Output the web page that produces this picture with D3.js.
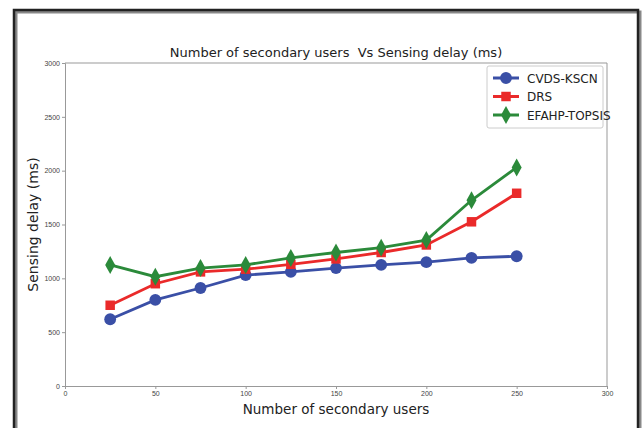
<!DOCTYPE html>
<html>
<head>
<meta charset="utf-8">
<script src="https://cdn.jsdelivr.net/npm/d3@7"></script>
<style>
  body { margin: 0; background: #fff; }
  svg { display: block; font-family: "DejaVu Sans", sans-serif; }
</style>
</head>
<body>
<script>
// data
var users = [25, 50, 75, 100, 125, 150, 175, 200, 225, 250];
var cvds = [620, 800, 910, 1030, 1060, 1095, 1125, 1150, 1190, 1205];
var drs = [750, 950, 1060, 1085, 1130, 1180, 1240, 1310, 1525, 1790];
var efahp = [1125, 1015, 1095, 1125, 1190, 1240, 1285, 1355, 1725, 2030];
var xTicks = [0, 50, 100, 150, 200, 250, 300];
var yTicks = [0, 500, 1000, 1500, 2000, 2500, 3000];

var series = [
  {name: "CVDS-KSCN", values: cvds, color: "#3a4fa6", symbol: d3.symbolCircle, size: 110},
  {name: "DRS", values: drs, color: "#ea2a2a", symbol: d3.symbolSquare, size: 90},
  {name: "EFAHP-TOPSIS", values: efahp, color: "#2b8a3a", symbol: "diamond", size: 0}
];

var W = 643, H = 428;
var margin = {top: 63, right: 36, bottom: 42, left: 65};
var width = W - margin.left - margin.right,
    height = H - margin.top - margin.bottom;

var svg = d3.select("body").append("svg")
    .attr("width", W)
    .attr("height", H);

// outer frame with a little shadow
svg.append("rect")
    .attr("x", 16).attr("y", 12).attr("width", 624).attr("height", 430)
    .attr("fill", "none").attr("stroke", "#888").attr("stroke-width", 3);
svg.append("rect")
    .attr("x", 14).attr("y", 10).attr("width", 624).attr("height", 430)
    .attr("fill", "none").attr("stroke", "#222").attr("stroke-width", 2.5);

var g = svg.append("g")
    .attr("transform", "translate(" + margin.left + "," + margin.top + ")");

var x = d3.scaleLinear().domain([0, 300]).range([0, width]);
var y = d3.scaleLinear().domain([0, 3000]).range([height, 0]);

// axes
var xAxis = g.append("g")
    .attr("transform", "translate(0," + height + ")")
    .call(d3.axisBottom(x).tickValues(xTicks).tickFormat(d3.format("d")).tickSize(3).tickPadding(2));
var yAxis = g.append("g")
    .call(d3.axisLeft(y).tickValues(yTicks).tickFormat(d3.format("d")).tickSize(3).tickPadding(2));
[xAxis, yAxis].forEach(function(a) {
  a.selectAll("text").attr("fill", "#444").style("font-size", "7px");
  a.selectAll("line, path").attr("stroke", "#999");
});
// top and right spines
g.append("line").attr("x1", 0).attr("x2", width).attr("y1", 0).attr("y2", 0).attr("stroke", "#999");
g.append("line").attr("x1", width).attr("x2", width).attr("y1", 0).attr("y2", height).attr("stroke", "#999");

function diamondPath(cx, cy) {
  return "M" + cx + "," + (cy - 9) + "L" + (cx + 5) + "," + cy + "L" + cx + "," + (cy + 9) + "L" + (cx - 5) + "," + cy + "Z";
}

function drawMarker(sel, s, cx, cy) {
  if (s.symbol === "diamond") {
    sel.append("path").attr("d", diamondPath(cx, cy)).attr("fill", s.color);
  } else {
    sel.append("path")
      .attr("d", d3.symbol().type(s.symbol).size(s.size)())
      .attr("transform", "translate(" + cx + "," + cy + ")")
      .attr("fill", s.color);
  }
}

var line = d3.line()
    .x(function(d, i) { return x(users[i]); })
    .y(function(d) { return y(d); });

series.forEach(function(s) {
  g.append("path")
      .datum(s.values)
      .attr("fill", "none")
      .attr("stroke", s.color)
      .attr("stroke-width", 2.8)
      .attr("d", line);
  s.values.forEach(function(v, i) {
    drawMarker(g, s, x(users[i]), y(v));
  });
});

// title and axis labels
svg.append("text")
    .attr("x", margin.left + width / 2).attr("y", 57)
    .attr("text-anchor", "middle")
    .style("font-size", "13px").style("white-space", "pre").attr("fill", "#222")
    .text("Number of secondary users  Vs Sensing delay (ms)");
svg.append("text")
    .attr("x", margin.left + width / 2).attr("y", 414)
    .attr("text-anchor", "middle")
    .style("font-size", "13.5px").attr("fill", "#222")
    .text("Number of secondary users");
svg.append("text")
    .attr("transform", "translate(38," + (margin.top + height / 2) + ") rotate(-90)")
    .attr("text-anchor", "middle")
    .style("font-size", "14px").attr("fill", "#222")
    .text("Sensing delay (ms)");

// legend
var lg = svg.append("g").attr("transform", "translate(487,66)");
lg.append("rect")
    .attr("width", 116).attr("height", 62).attr("rx", 2)
    .attr("fill", "#fff").attr("stroke", "#ccc");
series.forEach(function(s, i) {
  var yy = 12 + i * 18.5;
  lg.append("line").attr("x1", 6).attr("x2", 32).attr("y1", yy).attr("y2", yy)
    .attr("stroke", s.color).attr("stroke-width", 3);
  drawMarker(lg, s, 19, yy);
  lg.append("text").attr("x", 40).attr("y", yy + 4.5)
    .style("font-size", "12px").attr("fill", "#222")
    .text(s.name);
});
</script>
</body>
</html>
